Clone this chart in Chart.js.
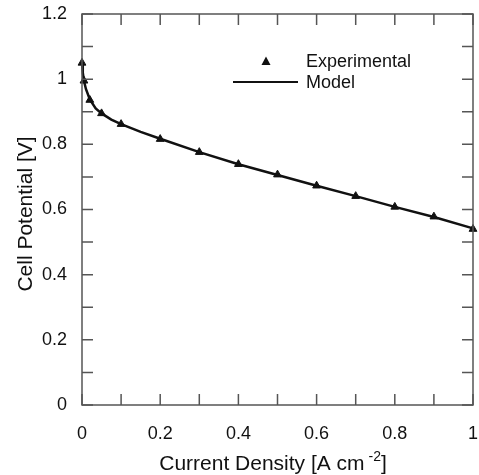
<!DOCTYPE html>
<html lang="en">
<head>
<meta charset="UTF-8">
<title>Polarization curve</title>
<script src="https://cdn.jsdelivr.net/npm/chart.js"></script>
<style>
  body { margin: 0; background: #fff; }
  #wrap { width: 479px; height: 475px; }
</style>
</head>
<body>
<div id="wrap"><canvas id="grafico" width="479" height="475"></canvas></div>
<script>
// dados
const expX = [0, 0.005, 0.02, 0.05, 0.1, 0.2, 0.3, 0.4, 0.5, 0.6, 0.7, 0.8, 0.9, 1.0];
const expY = [1.05, 0.995, 0.936, 0.895, 0.862, 0.816, 0.776, 0.739, 0.707, 0.673, 0.641, 0.608, 0.578, 0.540];

const modelX = [0, 0.002, 0.005, 0.01, 0.02, 0.035, 0.05, 0.075, 0.1, 0.15, 0.2, 0.3, 0.4, 0.5, 0.6, 0.7, 0.8, 0.9, 1.0];
const modelY = [1.05, 1.02, 0.995, 0.97, 0.938, 0.91, 0.895, 0.876, 0.862, 0.838, 0.817, 0.776, 0.739, 0.706, 0.673, 0.641, 0.608, 0.577, 0.542];

const xLabels = ['0', '0.2', '0.4', '0.6', '0.8', '1'];
const yLabels = ['0', '0.2', '0.4', '0.6', '0.8', '1', '1.2'];

const fonte = 'Liberation Sans, Arial, sans-serif';
const corEixo = '#555';

function pares(xs, ys) {
    return xs.map(function (x, i) { return { x: x, y: ys[i] }; });
}

// ticks para dentro nos quatro lados
const ticksDentro = {
    id: 'ticksDentro',
    afterDraw: function (chart) {
        const ctx = chart.ctx;
        const a = chart.chartArea;
        const len = 11;
        ctx.save();
        ctx.strokeStyle = corEixo;
        ctx.lineWidth = 1.5;
        ctx.beginPath();
        chart.scales.x.ticks.forEach(function (t) {
            const px = chart.scales.x.getPixelForValue(t.value);
            ctx.moveTo(px, a.bottom); ctx.lineTo(px, a.bottom - len);
            ctx.moveTo(px, a.top); ctx.lineTo(px, a.top + len);
        });
        chart.scales.y.ticks.forEach(function (t) {
            const py = chart.scales.y.getPixelForValue(t.value);
            ctx.moveTo(a.left, py); ctx.lineTo(a.left + len, py);
            ctx.moveTo(a.right, py); ctx.lineTo(a.right - len, py);
        });
        ctx.stroke();
        ctx.strokeRect(a.left, a.top, a.right - a.left, a.bottom - a.top);
        ctx.restore();
    }
};

// legenda e titulos dos eixos
const textos = {
    id: 'textos',
    afterDraw: function (chart) {
        const ctx = chart.ctx;
        ctx.save();
        ctx.fillStyle = '#111';
        ctx.strokeStyle = '#111';

        // legenda
        ctx.beginPath();
        ctx.moveTo(266, 56.5); ctx.lineTo(270.5, 65); ctx.lineTo(261.5, 65); ctx.closePath();
        ctx.fill();
        ctx.lineWidth = 2;
        ctx.beginPath();
        ctx.moveTo(233, 82); ctx.lineTo(298, 82);
        ctx.stroke();
        ctx.font = '18px ' + fonte;
        ctx.textAlign = 'left';
        ctx.textBaseline = 'middle';
        ctx.fillText('Experimental', 306, 62);
        ctx.fillText('Model', 306, 83);

        // titulo eixo x com expoente
        const p1 = 'Current Density [A cm';
        const p3 = ']';
        ctx.font = '21px ' + fonte;
        const w1 = ctx.measureText(p1).width;
        const w3 = ctx.measureText(p3).width;
        ctx.font = '14px ' + fonte;
        const w2 = ctx.measureText(' -2').width;
        const total = w1 + w2 + w3;
        const x0 = 273 - total / 2;
        ctx.textBaseline = 'alphabetic';
        ctx.font = '21px ' + fonte;
        ctx.fillText(p1, x0, 470);
        ctx.font = '14px ' + fonte;
        ctx.fillText(' -2', x0 + w1, 461);
        ctx.font = '21px ' + fonte;
        ctx.fillText(p3, x0 + w1 + w2, 470);

        // titulo eixo y
        ctx.translate(26, 214);
        ctx.rotate(-Math.PI / 2);
        ctx.textAlign = 'center';
        ctx.textBaseline = 'middle';
        ctx.fillText('Cell Potential [V]', 0, 0);
        ctx.restore();
    }
};

function rotulo(lista) {
    return function (valor) {
        const k = Math.round(valor * 10);
        if (k % 2 !== 0) return '';
        return lista[k / 2];
    };
}

const config = {
    type: 'scatter',
    data: {
        datasets: [{
            label: 'Model',
            data: pares(modelX, modelY),
            showLine: true,
            borderColor: '#111',
            borderWidth: 2.5,
            pointRadius: 0,
            tension: 0,
            clip: false,
            order: 2
        }, {
            label: 'Experimental',
            data: pares(expX, expY),
            showLine: false,
            pointStyle: 'triangle',
            pointRadius: 4.5,
            backgroundColor: '#111',
            borderColor: '#111',
            clip: false,
            order: 1
        }]
    },
    options: {
        responsive: false,
        animation: false,
        layout: { padding: { top: 14, right: 6, left: 0, bottom: 0 } },
        plugins: { legend: { display: false }, tooltip: { enabled: false } },
        scales: {
            x: {
                type: 'linear',
                min: 0, max: 1,
                grid: { display: false },
                border: { display: false },
                ticks: {
                    stepSize: 0.1,
                    autoSkip: false,
                    maxRotation: 0,
                    padding: 10,
                    color: '#111',
                    font: { family: fonte, size: 18 },
                    callback: rotulo(xLabels)
                },
                afterFit: function (s) {
                    s.height = 70;
                    s.paddingLeft = 0;
                    s.paddingRight = 0;
                }
            },
            y: {
                type: 'linear',
                min: 0, max: 1.2,
                grid: { display: false },
                border: { display: false },
                ticks: {
                    stepSize: 0.1,
                    autoSkip: false,
                    padding: 7,
                    color: '#111',
                    font: { family: fonte, size: 18 },
                    callback: rotulo(yLabels)
                },
                afterFit: function (s) {
                    s.width = 82;
                    s.paddingTop = 0;
                    s.paddingBottom = 0;
                }
            }
        }
    },
    plugins: [ticksDentro, textos]
};

new Chart(document.getElementById('grafico'), config);
</script>
</body>
</html>
